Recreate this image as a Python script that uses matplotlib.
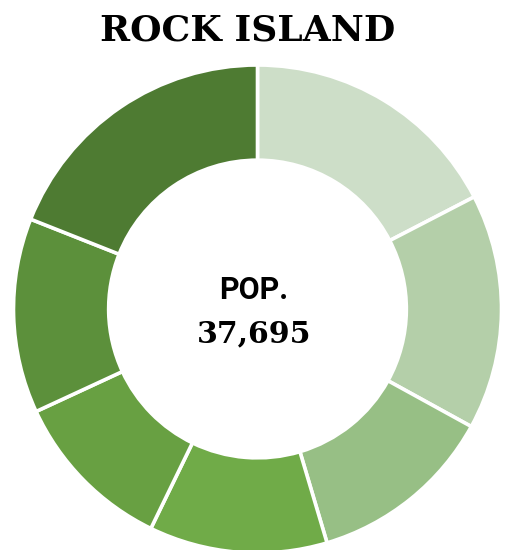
import matplotlib
matplotlib.use("Agg")
import matplotlib.pyplot as plt

# population share by group, clockwise from 12 o'clock
groups = ["G1", "G2", "G3", "G4", "G5", "G6", "G7"]
shares = [17.4, 15.6, 12.4, 11.8, 10.9, 12.9, 19.0]
colors = ["#cddec8", "#b4cfa9", "#97bf85", "#70ab48", "#68a042", "#5c903b", "#4e7b32"]

city = "ROCK ISLAND"
population = 37695

W, H = 508, 550
fig = plt.figure(figsize=(W / 100, H / 100), dpi=100)

# ring centre (257.5, 309) px, outer radius 244 px
cx, cy, r = 257.5, 309, 244
ax = fig.add_axes([(cx - r) / W, (H - cy - r) / H, 2 * r / W, 2 * r / H])
ax.pie(
    shares,
    colors=colors,
    startangle=90,
    counterclock=False,
    radius=1.0,
    wedgeprops=dict(width=0.39, edgecolor="white", linewidth=2.6),
)
ax.set_xlim(-1, 1)
ax.set_ylim(-1, 1)
ax.set_aspect("equal")
ax.axis("off")

fig.text(247.5 / W, 1 - 40.5 / H, city, ha="center", va="baseline",
         family="DejaVu Serif", weight="bold", fontsize=26)
fig.text(253.5 / W, 1 - 299 / H, "POP.", ha="center", va="baseline",
         family=["Liberation Sans Narrow", "Roboto", "DejaVu Sans"],
         weight="bold", fontsize=22)
fig.text(254 / W, 1 - 342 / H, f"{population:,}", ha="center", va="baseline",
         family="DejaVu Serif", weight="heavy", fontsize=21.5)

fig.savefig("out.png", dpi=100, facecolor="white")
